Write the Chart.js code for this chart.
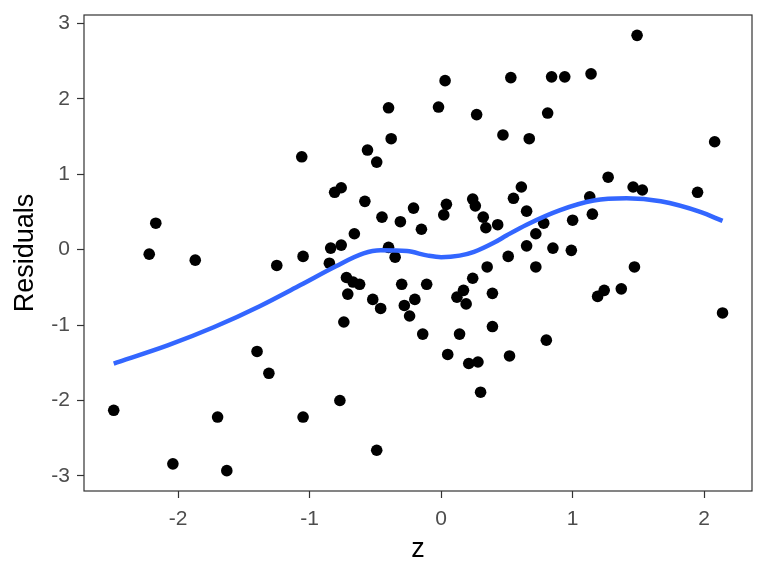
<!DOCTYPE html>
<html><head><meta charset="utf-8">
<script src="https://cdn.jsdelivr.net/npm/chart.js@4/dist/chart.umd.min.js"></script>
<style>html,body{margin:0;padding:0;background:#fff}#wrap{width:768px;height:576px}</style>
</head><body><div id="wrap"><canvas id="c" width="768" height="576"></canvas></div>
<script>
const zValues = [
  1.49,0.03,0.53,0.84,0.94,1.14,-0.40,-0.02,0.27,0.81,
  -0.38,0.47,0.67,-1.06,-0.56,-0.49,2.08,1.27,-0.81,-0.76,
  -0.58,-0.45,-0.31,-0.21,-0.15,0.04,0.02,0.24,0.26,0.32,
  0.34,0.43,-0.66,-0.84,-0.76,-1.05,-0.85,-0.40,-0.35,-0.72,
  -0.67,-0.62,-0.71,-0.52,-0.46,-0.30,-0.11,-0.20,-0.28,-0.24,
  -0.74,-0.14,0.14,0.05,0.35,0.24,0.17,0.12,0.19,0.39,
  0.39,1.46,1.53,0.61,0.55,0.65,1.13,1.15,1.00,0.78,
  0.72,0.65,0.85,0.99,0.51,0.72,1.47,1.37,1.24,1.19,
  0.80,1.95,2.14,-2.17,-2.22,-1.87,-1.25,-1.40,-1.31,-2.49,
  -1.70,-1.05,-0.77,-2.04,-1.63,-0.49,0.30,0.21,0.28,0.52
];
const residuals = [
  2.84,2.24,2.28,2.29,2.29,2.33,1.88,1.89,1.79,1.81,
  1.47,1.52,1.47,1.23,1.32,1.16,1.43,0.96,0.76,0.82,
  0.64,0.43,0.37,0.55,0.27,0.60,0.46,0.67,0.58,0.43,
  0.29,0.33,0.21,0.02,0.06,-0.09,-0.18,0.03,-0.10,-0.37,
  -0.43,-0.46,-0.59,-0.66,-0.78,-0.46,-0.46,-0.66,-0.74,-0.88,
  -0.96,-1.12,-1.12,-1.39,-0.23,-0.38,-0.54,-0.63,-0.72,-0.58,
  -1.02,0.83,0.79,0.83,0.68,0.51,0.70,0.47,0.39,0.35,
  0.21,0.05,0.02,-0.01,-0.09,-0.23,-0.23,-0.52,-0.54,-0.62,
  -1.20,0.76,-0.84,0.35,-0.06,-0.14,-0.21,-1.35,-1.64,-2.13,
  -2.22,-2.22,-2.00,-2.84,-2.93,-2.66,-1.89,-1.51,-1.49,-1.41
];
const smoothZ = [-2.49,-2.08,-1.73,-1.38,-1.07,-0.80,-0.59,-0.46,-0.26,-0.10,0.00,0.14,0.25,0.40,0.50,0.65,0.90,1.16,1.41,1.67,1.97,2.14];
const smoothY = [-1.51,-1.27,-1.03,-0.75,-0.47,-0.22,-0.05,-0.01,-0.02,-0.08,-0.10,-0.08,-0.03,0.09,0.19,0.33,0.52,0.65,0.68,0.64,0.50,0.38];
const xTicks = [-2,-1,0,1,2];
const yTicks = [-3,-2,-1,0,1,2,3];
const xLabel = 'z';
const yLabel = 'Residuals';

const points = zValues.map((z,i)=>({x:z,y:residuals[i]}));
const curve = smoothZ.map((z,i)=>({x:z,y:smoothY[i]}));

const FONT = "'Liberation Sans', Arial, Helvetica, sans-serif";

const panelBorder = {
  id:'panelBorder',
  beforeDraw(chart){
    const c=chart.ctx; c.save(); c.fillStyle='#fff'; c.fillRect(0,0,chart.width,chart.height); c.restore();
  },
  afterDraw(chart){
    const {left,right,top,bottom}=chart.chartArea;
    const c=chart.ctx; c.save();
    c.strokeStyle='#333333'; c.lineWidth=1.2;
    c.strokeRect(left,top,right-left,bottom-top);
    c.restore();
  }
};

new Chart(document.getElementById('c'),{
  type:'scatter',
  data:{datasets:[
    {type:'line',data:curve,borderColor:'#3366FF',borderWidth:4.5,pointRadius:0,fill:false,
     cubicInterpolationMode:'monotone',order:0},
    {type:'scatter',data:points,backgroundColor:'#000',borderColor:'#000',borderWidth:0,pointRadius:5.8,order:1}
  ]},
  options:{
    responsive:false,animation:false,devicePixelRatio:1,
    events:[],
    layout:{padding:{left:0,right:16,top:15,bottom:0}},
    plugins:{legend:{display:false},tooltip:{enabled:false}},
    scales:{
      x:{type:'linear',min:-2.716,max:2.364,
        afterBuildTicks:s=>{s.ticks=xTicks.map(v=>({value:v}));},
        afterFit:s=>{s.height=85;s.paddingLeft=0;s.paddingRight=0;},
        grid:{drawOnChartArea:false,drawTicks:true,tickLength:7,tickColor:'#333333',tickWidth:1.2},
        border:{display:false},
        ticks:{color:'#4d4d4d',font:{family:FONT,size:21},padding:9,maxRotation:0,
          callback:v=>String(v)},
        title:{display:true,text:xLabel,color:'#000',font:{family:FONT,size:27},padding:{top:0,bottom:10}}
      },
      y:{type:'linear',min:-3.2,max:3.11,
        afterBuildTicks:s=>{s.ticks=yTicks.map(v=>({value:v}));},
        afterFit:s=>{s.width=84;s.paddingTop=0;s.paddingBottom=0;},
        grid:{drawOnChartArea:false,drawTicks:true,tickLength:7,tickColor:'#333333',tickWidth:1.2},
        border:{display:false},
        ticks:{color:'#4d4d4d',font:{family:FONT,size:21},padding:7,callback:v=>String(v)},
        title:{display:true,text:yLabel,color:'#000',font:{family:FONT,size:27},padding:{top:9,bottom:0}}
      }
    }
  },
  plugins:[panelBorder]
});
</script></body></html>
